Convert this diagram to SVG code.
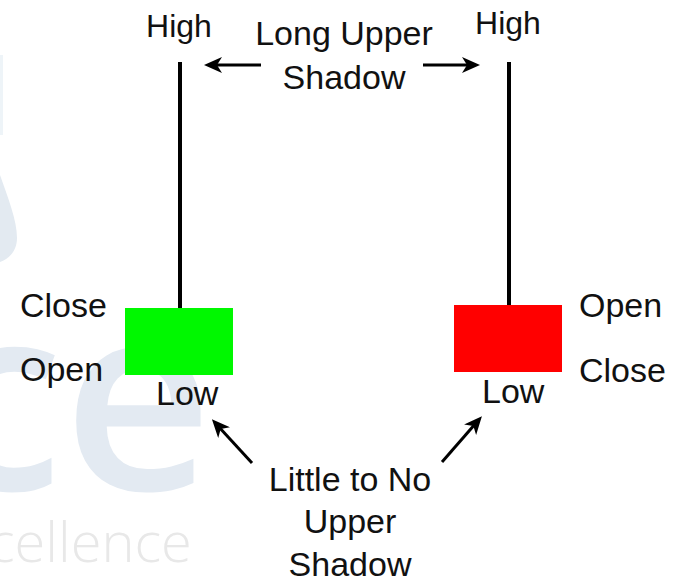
<svg xmlns="http://www.w3.org/2000/svg" width="681" height="581" viewBox="0 0 681 581">
<style>
.t{font-family:"Liberation Sans",Arial,sans-serif;font-size:34px;fill:#111}
.h{font-size:32px}
.wick{stroke:#000;stroke-width:4}
.arr{stroke:#000;stroke-width:3;fill:none;marker-end:url(#ah)}
.wm{font-family:"Open Sans",sans-serif}
</style>
<defs>
<marker id="ah" markerUnits="userSpaceOnUse" markerWidth="18" markerHeight="16" viewBox="0 0 18 16" refX="9" refY="8" orient="auto">
<path d="M0,0 L18,8 L0,16 L5,8 Z" fill="#000"/>
</marker>
</defs>
<rect width="681" height="581" fill="#fff"/>
<g id="watermark">
<rect x="0" y="55" width="3" height="80" fill="#eef4f8"/>
<path d="M0,175 C8,198 17,220 17,238 C17,252 8,259 0,262 Z" fill="#e3eaf1"/>
<text class="wm" x="-66" y="490" font-size="260" font-weight="600" fill="#e3eaf2">ce</text>
<text class="wm" x="-12" y="562" font-size="56" font-weight="300" fill="#e8e8e8">cellence</text>
</g>
<g id="bull-candle">
<line class="wick" x1="180" y1="62" x2="180" y2="309"/>
<rect x="125" y="308" width="108" height="67" fill="#00f800"/>
<text class="t" x="20" y="317">Close</text>
<text class="t" x="20" y="381">Open</text>
<text class="t" x="156" y="405">Low</text>
<text class="t h" x="179" y="37" text-anchor="middle">High</text>
</g>
<g id="bear-candle">
<line class="wick" x1="509" y1="62" x2="509" y2="306"/>
<rect x="454" y="305" width="108" height="67" fill="#ff0000"/>
<text class="t" x="579" y="317">Open</text>
<text class="t" x="579" y="382">Close</text>
<text class="t" x="482" y="403">Low</text>
<text class="t h" x="508" y="34" text-anchor="middle">High</text>
</g>
<g id="label-long">
<text class="t" x="344" y="45" text-anchor="middle">Long Upper</text>
<text class="t" x="344" y="89" text-anchor="middle">Shadow</text>
</g>
<g id="label-little">
<text class="t" x="350" y="491" text-anchor="middle">Little to No</text>
<text class="t" x="350" y="533" text-anchor="middle">Upper</text>
<text class="t" x="350" y="576" text-anchor="middle">Shadow</text>
</g>
<g id="connectors">
<line class="arr" x1="261" y1="65" x2="213" y2="65"/>
<line class="arr" x1="423" y1="65" x2="471" y2="65"/>
<line class="arr" x1="252" y1="463" x2="218" y2="426"/>
<line class="arr" x1="442" y1="462" x2="476" y2="423"/>
</g>
</svg>
